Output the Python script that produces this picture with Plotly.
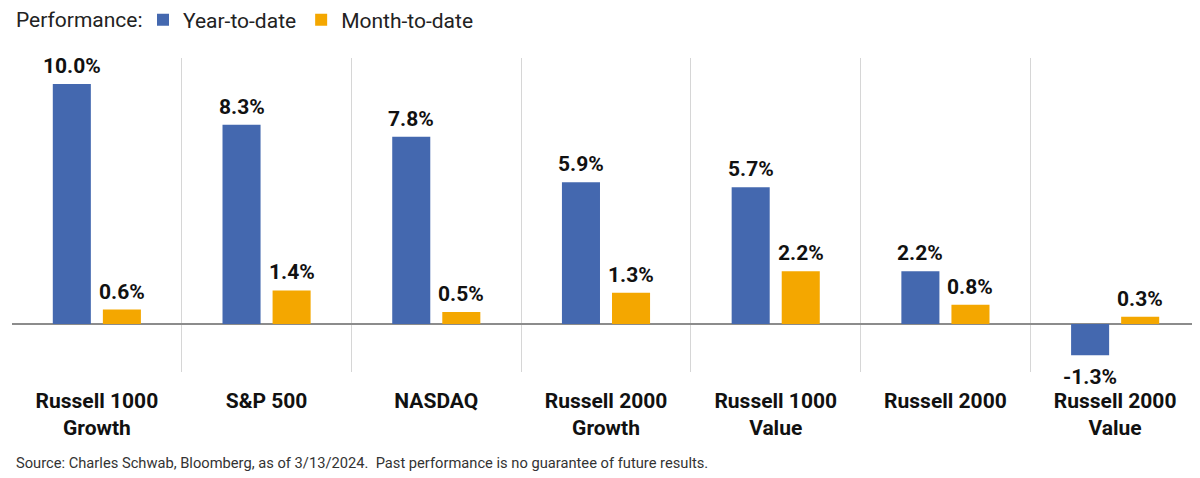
"""Index performance chart: year-to-date vs month-to-date returns."""

import plotly.graph_objects as go

# Chart data
categories = [
    "Russell 1000<br>Growth",
    "S&P 500",
    "NASDAQ",
    "Russell 2000<br>Growth",
    "Russell 1000<br>Value",
    "Russell 2000",
    "Russell 2000<br>Value",
]
ytd_values = [10.0, 8.3, 7.8, 5.9, 5.7, 2.2, -1.3]
mtd_values = [0.6, 1.4, 0.5, 1.3, 2.2, 0.8, 0.3]

BLUE = "#4468AF"
ORANGE = "#F4A700"
FONT = "Roboto, Inter, Arial, sans-serif"

# plot area on screen (page body adds an 8px offset): x 12..1200, y 58..372
PLOT_L, PLOT_W = 12, 1188
PLOT_B, PLOT_H = 372, 314
BAR_SHIFT = 25  # px from category centre to each bar centre


def px_x(x):
    return (x - PLOT_L) / PLOT_W


def px_y(y):
    return (PLOT_B - y) / PLOT_H


fig = go.Figure()

annotations = []
for name, values, color, shift in [
    ("Year-to-date", ytd_values, BLUE, -BAR_SHIFT),
    ("Month-to-date", mtd_values, ORANGE, BAR_SHIFT),
]:
    fig.add_trace(
        go.Bar(
            x=categories,
            y=values,
            name=name,
            marker={"color": color, "line": {"width": 0}},
            hoverinfo="x+y+name",
        )
    )
    # value labels above / below each bar
    for cat, val in zip(categories, values):
        annotations.append(
            {
                "x": cat,
                "y": val,
                "xref": "x",
                "yref": "y",
                "text": f"<b>{val:.1f}%</b>",
                "showarrow": False,
                "xshift": shift,
                "yshift": 4 if val >= 0 else -8,
                "yanchor": "bottom" if val >= 0 else "top",
                "font": {"family": FONT, "size": 21, "color": "#111111"},
            }
        )

annotations += [
    {
        "text": "Performance:",
        "xref": "paper",
        "yref": "paper",
        "x": px_x(14),
        "y": px_y(20),
        "xanchor": "left",
        "yanchor": "middle",
        "showarrow": False,
        "font": {"family": FONT, "size": 21, "color": "#222222"},
    },
    {
        "text": "Source: Charles Schwab, Bloomberg, as of 3/13/2024.  "
        "Past performance is no guarantee of future results.",
        "xref": "paper",
        "yref": "paper",
        "x": px_x(14),
        "y": px_y(463),
        "xanchor": "left",
        "yanchor": "middle",
        "showarrow": False,
        "font": {"family": FONT, "size": 14.7, "color": "#333333"},
    },
]

fig.update_layout(
    width=1200,
    height=478,
    barmode="group",
    bargap=0.41,
    bargroupgap=0.24,
    paper_bgcolor="white",
    plot_bgcolor="white",
    font={"family": FONT, "color": "#111111"},
    margin={"l": 4, "r": 8, "t": 50, "b": 114, "autoexpand": False},
    showlegend=True,
    legend={
        "orientation": "h",
        "xref": "container",
        "yref": "container",
        "x": 135 / 1200,
        "y": 1 - 12 / 478,
        "xanchor": "left",
        "yanchor": "middle",
        "font": {"family": FONT, "size": 21, "color": "#222222"},
        "itemwidth": 30,
        "tracegroupgap": 0,
    },
    xaxis={
        "type": "category",
        "showgrid": True,
        "gridcolor": "#d6d6d6",
        "gridwidth": 1,
        "tickson": "boundaries",
        "ticks": "",
        "showline": False,
        "ticklabelstandoff": 14,
        "tickfont": {"family": FONT, "size": 21, "color": "#111111", "weight": "bold"},
    },
    yaxis={
        "range": [-2.0, 11.08],
        "showgrid": False,
        "showticklabels": False,
        "zeroline": True,
        "zerolinecolor": "#8c8c8c",
        "zerolinewidth": 2,
    },
    annotations=annotations,
)

fig.write_html("out.html")
